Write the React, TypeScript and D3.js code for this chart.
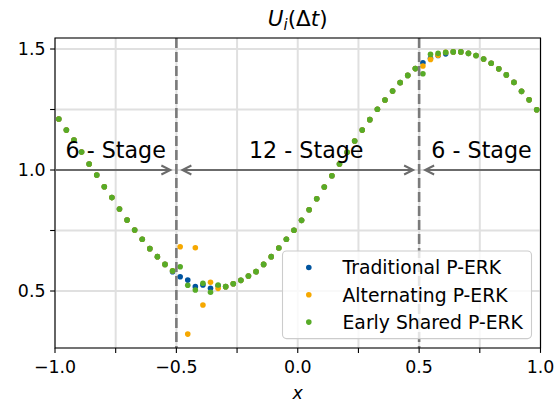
import React from 'react';
import * as d3 from 'd3';

const xs = [
  -0.984375, -0.953125, -0.921875, -0.890625, -0.859375, -0.828125, -0.796875, -0.765625,
  -0.734375, -0.703125, -0.671875, -0.640625, -0.609375, -0.578125, -0.546875, -0.515625,
  -0.484375, -0.453125, -0.421875, -0.390625, -0.359375, -0.328125, -0.296875, -0.265625,
  -0.234375, -0.203125, -0.171875, -0.140625, -0.109375, -0.078125, -0.046875, -0.015625,
  0.015625, 0.046875, 0.078125, 0.109375, 0.140625, 0.171875, 0.203125, 0.234375,
  0.265625, 0.296875, 0.328125, 0.359375, 0.390625, 0.421875, 0.453125, 0.484375,
  0.515625, 0.546875, 0.578125, 0.609375, 0.640625, 0.671875, 0.703125, 0.734375,
  0.765625, 0.796875, 0.828125, 0.859375, 0.890625, 0.921875, 0.953125, 0.984375,
];

const earlyShared = [
  1.211, 1.165, 1.124, 1.074, 1.025, 0.979, 0.931, 0.886,
  0.839, 0.793, 0.752, 0.714, 0.675, 0.642, 0.610, 0.584,
  0.600, 0.524, 0.504, 0.532, 0.495, 0.525, 0.518, 0.530,
  0.544, 0.562, 0.580, 0.610, 0.642, 0.678, 0.714, 0.751,
  0.792, 0.836, 0.881, 0.930, 0.976, 1.025, 1.073, 1.120,
  1.165, 1.208, 1.251, 1.289, 1.326, 1.361, 1.391, 1.419,
  1.398, 1.478, 1.482, 1.486, 1.488, 1.488, 1.482, 1.473,
  1.459, 1.441, 1.418, 1.393, 1.362, 1.325, 1.290, 1.249,
];

const traditional = [
  1.211, 1.165, 1.124, 1.074, 1.025, 0.979, 0.931, 0.886,
  0.839, 0.793, 0.752, 0.714, 0.675, 0.642, 0.610, 0.580,
  0.559, 0.545, 0.518, 0.525, 0.511, 0.522, 0.518, 0.530,
  0.544, 0.562, 0.580, 0.610, 0.642, 0.678, 0.714, 0.751,
  0.792, 0.836, 0.881, 0.930, 0.976, 1.025, 1.073, 1.120,
  1.165, 1.208, 1.251, 1.289, 1.326, 1.361, 1.391, 1.419,
  1.443, 1.462, 1.473, 1.480, 1.488, 1.488, 1.482, 1.473,
  1.459, 1.441, 1.418, 1.393, 1.362, 1.325, 1.290, 1.249,
];

const alternating = [
  1.211, 1.165, 1.124, 1.074, 1.025, 0.979, 0.931, 0.886,
  0.839, 0.793, 0.752, 0.714, 0.675, 0.642, 0.610, 0.584,
  0.683, 0.322, 0.679, 0.442, 0.536, 0.511, 0.518, 0.530,
  0.544, 0.562, 0.580, 0.610, 0.642, 0.678, 0.714, 0.751,
  0.792, 0.836, 0.881, 0.930, 0.976, 1.025, 1.073, 1.120,
  1.165, 1.208, 1.251, 1.289, 1.326, 1.361, 1.391, 1.419,
  1.430, 1.457, 1.474, 1.486, 1.488, 1.488, 1.482, 1.473,
  1.459, 1.441, 1.418, 1.393, 1.362, 1.325, 1.290, 1.249,
];

const seriesNames = ['Traditional P-ERK', 'Alternating P-ERK', 'Early Shared P-ERK'];
const seriesColors = ['#00549F', '#F6A800', '#57AB27'];

const xTicks = [-1, -0.5, 0, 0.5, 1];
const xTickLabels = ['\u22121.0', '\u22120.5', '0.0', '0.5', '1.0'];
const xMinorTicks = [-0.75, -0.25, 0.25, 0.75];
const yTicks = [0.5, 1.0, 1.5];
const yTickLabels = ['0.5', '1.0', '1.5'];
const yMinorTicks = [0.75, 1.25];

const interfaces = [-0.5, 0.5];
const stageSpans: [number, number][] = [[-1, -0.5], [-0.5, 0.5], [0.5, 1]];
const stageHeads: [boolean, boolean][] = [[false, true], [true, true], [true, false]];
const stageLabels = ['6 - Stage', '12 - Stage', '6 - Stage'];
const stageLabelX = [-0.75, 0.035, 0.757];
const arrowY = 1.0;

const W = 556;
const H = 403;
const FONT = 'DejaVu Sans, sans-serif';

export default function App() {
  const x = d3.scaleLinear().domain([-1, 1]).range([55, 540.5]);
  const y = d3.scaleLinear().domain([0.2645, 1.5455]).range([348, 38]);
  const [x0, x1] = x.range();
  const [yb, yt] = y.range();

  const allX = [...xTicks, ...xMinorTicks];
  const allY = [...yTicks, ...yMinorTicks];

  const series = [traditional, alternating, earlyShared];

  const ay = y(arrowY);
  const headL = 9;
  const headW = 4.5;

  return (
    <svg width={W} height={H} style={{ position: 'absolute', left: 0, top: 0, background: '#fff' }} fontFamily={FONT}>
      <rect x={0} y={0} width={W} height={H} fill="#fff" />
      {allX.map((t, i) => (
        <line key={'gx' + i} x1={x(t)} x2={x(t)} y1={yt} y2={yb} stroke="#e0e0e0" strokeWidth={2} />
      ))}
      {allY.map((t, i) => (
        <line key={'gy' + i} x1={x0} x2={x1} y1={y(t)} y2={y(t)} stroke="#e0e0e0" strokeWidth={2} />
      ))}
      {series.map((s, si) => (
        <g key={'s' + si}>
          {s.map((v, i) => (
            <circle key={i} cx={x(xs[i])} cy={y(v)} r={2.8} fill={seriesColors[si]} />
          ))}
        </g>
      ))}
      {interfaces.map((t, i) => (
        <line key={'d' + i} x1={x(t)} x2={x(t)} y1={yt} y2={yb} stroke="#7a7a7a" strokeWidth={2.6} strokeDasharray="10,4" />
      ))}
      {stageSpans.map(([a, b], i) => {
        const [hl, hr] = stageHeads[i];
        const xa = x(a) + (hl ? 6 : 1);
        const xb = x(b) - (hr ? 6 : 0.5);
        return (
          <g key={'a' + i} stroke="#6b6b6b" strokeWidth={2} fill="none">
            <line x1={xa} x2={xb} y1={ay} y2={ay} />
            {hl && <path d={`M${xa + headL},${ay - headW} L${xa},${ay} L${xa + headL},${ay + headW}`} />}
            {hr && <path d={`M${xb - headL},${ay - headW} L${xb},${ay} L${xb - headL},${ay + headW}`} />}
          </g>
        );
      })}
      {stageLabels.map((t, i) => (
        <text key={'st' + i} x={x(stageLabelX[i])} y={ay - 11.7} fontSize={22.2} textAnchor="middle" fill="#000">
          {t}
        </text>
      ))}
      <rect x={x0} y={yt} width={x1 - x0} height={yb - yt} fill="none" stroke="#000" strokeWidth={1.1} />
      {allX.map((t, i) => (
        <line key={'tx' + i} x1={x(t)} x2={x(t)} y1={yb} y2={yb + 4.9} stroke="#000" strokeWidth={1.1} />
      ))}
      {allY.map((t, i) => (
        <line key={'ty' + i} x1={x0} x2={x0 - 4.9} y1={y(t)} y2={y(t)} stroke="#000" strokeWidth={1.1} />
      ))}
      {xTicks.map((t, i) => (
        <text key={'lx' + i} x={x(t)} y={372.5} fontSize={17.4} textAnchor="middle" fill="#000">
          {xTickLabels[i]}
        </text>
      ))}
      {yTicks.map((t, i) => (
        <text key={'ly' + i} x={45.5} y={y(t) + 6.3} fontSize={17.4} textAnchor="end" fill="#000">
          {yTickLabels[i]}
        </text>
      ))}
      <text x={(x0 + x1) / 2} y={398.5} fontSize={17.4} textAnchor="middle" fontStyle="italic" fill="#000">x</text>
      <text x={(x0 + x1) / 2} y={25.5} fontSize={21.5} textAnchor="middle" fill="#000">
        <tspan fontStyle="italic">U</tspan>
        <tspan fontStyle="italic" fontSize={15} dy={4}>i</tspan>
        <tspan dy={-4}>(Δ</tspan>
        <tspan fontStyle="italic">t</tspan>
        <tspan>)</tspan>
      </text>
      <g>
        <rect x={282.5} y={251} width={249} height={87.6} rx={4} fill="#fff" fillOpacity={0.8} stroke="#cccccc" strokeWidth={1.1} />
        {seriesNames.map((n, i) => {
          const cy = 267.5 + i * 27.3;
          return (
            <g key={'lg' + i}>
              <circle cx={308.8} cy={cy} r={2.8} fill={seriesColors[i]} />
              <text x={342.5} y={cy + 6.7} fontSize={18.8} fill="#000">{n}</text>
            </g>
          );
        })}
      </g>
    </svg>
  );
}
